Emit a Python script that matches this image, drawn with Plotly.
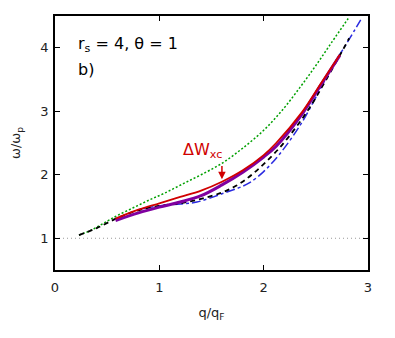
import plotly.graph_objects as go

green_x = [0.23, 0.35, 0.5, 0.6, 0.75, 0.9, 1.05, 1.23, 1.4, 1.6, 1.8, 2.0, 2.18, 2.35, 2.5, 2.65, 2.81]
green_y = [1.05, 1.13, 1.27, 1.36, 1.48, 1.60, 1.71, 1.86, 2.00, 2.18, 2.42, 2.70, 3.02, 3.38, 3.72, 4.08, 4.46]

black_x = [0.23, 0.4, 0.6, 0.8, 1.0, 1.2, 1.4, 1.6, 1.74, 1.9, 2.15, 2.41, 2.6, 2.82]
black_y = [1.05, 1.16, 1.32, 1.44, 1.51, 1.55, 1.62, 1.72, 1.83, 2.02, 2.42, 2.98, 3.50, 4.15]

blue_x = [0.8, 1.0, 1.2, 1.36, 1.6, 1.8, 1.87, 2.0, 2.15, 2.35, 2.5, 2.65, 2.8, 2.93]
blue_y = [1.45, 1.51, 1.54, 1.57, 1.70, 1.82, 1.88, 2.05, 2.32, 2.78, 3.22, 3.68, 4.08, 4.44]

purple_x = [0.58, 0.8, 1.0, 1.2, 1.4, 1.6, 1.8, 2.0, 2.12, 2.37, 2.55, 2.73]
purple_y = [1.28, 1.40, 1.49, 1.57, 1.67, 1.84, 2.04, 2.28, 2.45, 2.96, 3.42, 3.88]

red_x = [0.58, 0.8, 1.0, 1.2, 1.4, 1.6, 1.8, 2.0, 2.12, 2.37, 2.55, 2.73]
red_y = [1.31, 1.45, 1.55, 1.65, 1.75, 1.89, 2.07, 2.31, 2.50, 2.99, 3.44, 3.89]

ref_x = [0, 3]
ref_y = [1, 1]

fig = go.Figure()

fig.add_trace(go.Scatter(x=ref_x, y=ref_y, mode='lines',
                         line=dict(color='#999999', width=1, dash='1px,3px')))
fig.add_trace(go.Scatter(x=green_x, y=green_y, mode='lines', line_shape='spline',
                         line=dict(color='#00a000', width=1.5, dash='2px,2px')))
fig.add_trace(go.Scatter(x=blue_x, y=blue_y, mode='lines', line_shape='spline',
                         line=dict(color='#2a2ae0', width=1.5, dash='dashdot')))
fig.add_trace(go.Scatter(x=black_x, y=black_y, mode='lines', line_shape='spline',
                         line=dict(color='black', width=1.8, dash='5px,4px')))
fig.add_trace(go.Scatter(x=purple_x, y=purple_y, mode='lines', line_shape='spline',
                         line=dict(color='#8000a0', width=3)))
fig.add_trace(go.Scatter(x=red_x, y=red_y, mode='lines', line_shape='spline',
                         line=dict(color='#d00000', width=1.8)))

# arrow + label
fig.add_annotation(x=1.6, y=1.93, ax=1.6, ay=2.16, xref='x', yref='y', axref='x', ayref='y',
                   text='', showarrow=True, arrowhead=2, arrowsize=1, arrowwidth=1.5,
                   arrowcolor='#d00000')
fig.add_annotation(x=1.41, y=2.38, xref='x', yref='y', text='ΔW<sub>xc</sub>',
                   showarrow=False, font=dict(size=16, color='#d00000'))
fig.add_annotation(x=0.2, y=4.05, xref='x', yref='y', xanchor='left',
                   text='r<sub>s</sub> = 4, θ = 1', showarrow=False,
                   font=dict(size=16, color='black'))
fig.add_annotation(x=0.2, y=3.66, xref='x', yref='y', xanchor='left',
                   text='b)', showarrow=False, font=dict(size=16, color='black'))

axis_style = dict(showline=True, linecolor='black', linewidth=1.5, mirror='ticks',
                  ticks='inside', ticklen=5, tickwidth=1.2, tickcolor='black',
                  showgrid=False, zeroline=False, automargin=False,
                  tickfont=dict(size=13, color='#222222'))

fig.update_xaxes(range=[0, 3], tickvals=[0, 1, 2, 3], ticklabelstandoff=5,
                 title=dict(text='q/q<sub>F</sub>', font=dict(size=13, color='#222222'), standoff=14),
                 **axis_style)
fig.update_yaxes(range=[0.5, 4.5], tickvals=[1, 2, 3, 4], ticklabelstandoff=2,
                 title=dict(text='ω/ω<sub>p</sub>', font=dict(size=13, color='#222222'), standoff=22),
                 **axis_style)

# page body has an 8px default margin, so offset the plot area accordingly
fig.update_layout(width=395, height=338, showlegend=False,
                  margin=dict(l=47, r=35, t=8, b=76),
                  plot_bgcolor='white', paper_bgcolor='white',
                  font=dict(family='DejaVu Sans'))

fig.write_html("out.html")
